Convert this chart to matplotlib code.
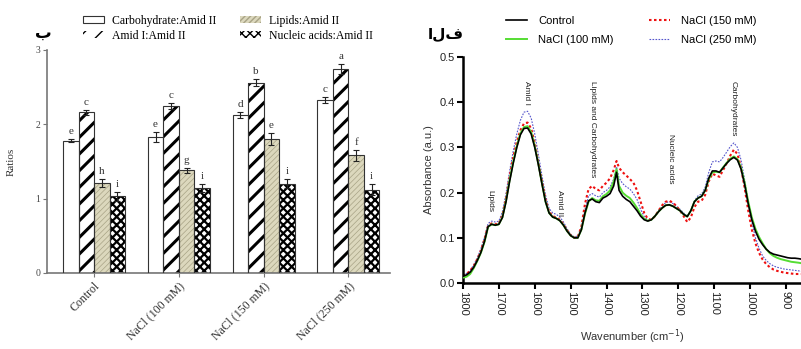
import numpy as np
import matplotlib
matplotlib.use('Agg')
import matplotlib.pyplot as plt
from matplotlib.patches import Patch

# ---- left panel data (ratios) ----
groups = ['Control', 'NaCl (100 mM)', 'NaCl (150 mM)', 'NaCl (250 mM)']
ratio_names = ['Carbohydrate:Amid II', 'Amid I:Amid II', 'Lipids:Amid II', 'Nucleic acids:Amid II']
carb = [1.78, 1.83, 2.13, 2.33]
amid1 = [2.16, 2.24, 2.56, 2.74]
lipids = [1.21, 1.38, 1.80, 1.58]
nucleic = [1.03, 1.14, 1.20, 1.12]
carb_err = [0.02, 0.07, 0.04, 0.04]
amid1_err = [0.03, 0.04, 0.05, 0.07]
lipids_err = [0.05, 0.03, 0.08, 0.07]
nucleic_err = [0.06, 0.05, 0.06, 0.07]
carb_let = ['e', 'e', 'd', 'c']
amid1_let = ['c', 'c', 'b', 'a']
lipids_let = ['h', 'g', 'e', 'f']
nucleic_let = ['i', 'i', 'i', 'i']

# ---- right panel data (FTIR spectra) ----
wn = [1800, 1790, 1780, 1770, 1760, 1750, 1740, 1730, 1720, 1710, 1700, 1690, 1680, 1670, 1660,
      1650, 1640, 1630, 1620, 1610, 1600, 1590, 1580, 1570, 1560, 1550, 1540, 1530, 1520, 1510,
      1500, 1490, 1480, 1470, 1460, 1450, 1440, 1430, 1420, 1410, 1400, 1390, 1380, 1372, 1365,
      1355, 1345, 1335, 1325, 1315, 1305, 1295, 1285, 1275, 1265, 1255, 1245, 1235, 1225, 1215,
      1205, 1195, 1185, 1175, 1165, 1155, 1145, 1135, 1125, 1115, 1105, 1095, 1085, 1075, 1065,
      1055, 1045, 1035, 1025, 1015, 1005, 995, 985, 975, 965, 955, 945, 935, 925, 915,
      905, 895, 885, 875, 865, 858]
control = [0.015, 0.018, 0.024, 0.035, 0.050, 0.068, 0.092, 0.125, 0.130, 0.128, 0.130, 0.145, 0.180, 0.225, 0.265,
           0.300, 0.328, 0.342, 0.343, 0.330, 0.300, 0.262, 0.220, 0.180, 0.155, 0.146, 0.143, 0.138, 0.128, 0.115,
           0.105, 0.100, 0.100, 0.118, 0.155, 0.182, 0.186, 0.180, 0.178, 0.188, 0.192, 0.198, 0.215, 0.245, 0.205,
           0.192, 0.185, 0.180, 0.170, 0.160, 0.148, 0.140, 0.137, 0.140, 0.148, 0.158, 0.166, 0.172, 0.173, 0.170,
           0.165, 0.160, 0.152, 0.147, 0.160, 0.180, 0.188, 0.192, 0.205, 0.232, 0.248, 0.248, 0.245, 0.255, 0.265,
           0.273, 0.278, 0.272, 0.252, 0.218, 0.175, 0.140, 0.115, 0.097, 0.085, 0.075, 0.068, 0.064, 0.062, 0.060,
           0.058, 0.056, 0.055, 0.055, 0.054, 0.053]
nacl100 = [0.012, 0.014, 0.020, 0.033, 0.049, 0.067, 0.091, 0.124, 0.130, 0.128, 0.130, 0.146, 0.182, 0.228, 0.268,
           0.303, 0.331, 0.345, 0.347, 0.334, 0.303, 0.264, 0.221, 0.180, 0.155, 0.146, 0.143, 0.138, 0.128, 0.115,
           0.105, 0.100, 0.100, 0.118, 0.153, 0.180, 0.188, 0.183, 0.182, 0.192, 0.197, 0.205, 0.225, 0.252, 0.215,
           0.200, 0.193, 0.188, 0.178, 0.166, 0.152, 0.142, 0.138, 0.140, 0.148, 0.158, 0.166, 0.172, 0.173, 0.170,
           0.165, 0.160, 0.152, 0.147, 0.160, 0.180, 0.188, 0.192, 0.205, 0.230, 0.245, 0.246, 0.245, 0.256, 0.266,
           0.275, 0.280, 0.274, 0.255, 0.222, 0.180, 0.145, 0.120, 0.102, 0.088, 0.075, 0.066, 0.060, 0.056, 0.053,
           0.051, 0.049, 0.047, 0.046, 0.045, 0.044]
nacl150 = [0.016, 0.020, 0.027, 0.038, 0.053, 0.072, 0.097, 0.127, 0.132, 0.130, 0.132, 0.150, 0.188, 0.235, 0.278,
           0.312, 0.338, 0.353, 0.355, 0.342, 0.310, 0.268, 0.225, 0.185, 0.158, 0.148, 0.145, 0.140, 0.130, 0.117,
           0.106, 0.100, 0.102, 0.125, 0.175, 0.208, 0.215, 0.208, 0.205, 0.215, 0.222, 0.232, 0.250, 0.270, 0.255,
           0.245, 0.238, 0.230, 0.222, 0.205, 0.180, 0.155, 0.142, 0.140, 0.148, 0.160, 0.172, 0.180, 0.182, 0.178,
           0.170, 0.160, 0.148, 0.135, 0.145, 0.168, 0.180, 0.182, 0.195, 0.225, 0.242, 0.238, 0.235, 0.250, 0.265,
           0.282, 0.295, 0.285, 0.255, 0.210, 0.160, 0.118, 0.088, 0.067, 0.052, 0.042, 0.035, 0.030, 0.027, 0.025,
           0.023, 0.022, 0.021, 0.020, 0.020, 0.020]
nacl250 = [0.017, 0.021, 0.028, 0.040, 0.056, 0.076, 0.102, 0.132, 0.137, 0.135, 0.137, 0.158, 0.198, 0.248, 0.292,
           0.330, 0.360, 0.378, 0.380, 0.365, 0.330, 0.285, 0.238, 0.195, 0.165, 0.155, 0.152, 0.146, 0.135, 0.120,
           0.108, 0.102, 0.104, 0.123, 0.163, 0.193, 0.198, 0.193, 0.190, 0.200, 0.205, 0.213, 0.230, 0.257, 0.232,
           0.220, 0.213, 0.208, 0.198, 0.185, 0.163, 0.147, 0.139, 0.140, 0.149, 0.160, 0.170, 0.178, 0.180, 0.176,
           0.170, 0.163, 0.155, 0.148, 0.160, 0.182, 0.193, 0.197, 0.212, 0.245, 0.268, 0.270, 0.268, 0.278, 0.290,
           0.302, 0.310, 0.300, 0.272, 0.228, 0.178, 0.135, 0.100, 0.077, 0.060, 0.050, 0.043, 0.038, 0.035, 0.033,
           0.031, 0.030, 0.029, 0.028, 0.027, 0.026]
band_labels = ['Lipids', 'Amid I', 'Amid II', 'Lipids and Carbohydrates', 'Nucleic acids', 'Carbohydrates']
band_pos = [1725, 1622, 1530, 1438, 1223, 1048]
band_top = [0.205, 0.447, 0.205, 0.447, 0.33, 0.447]

fig = plt.figure(figsize=(8.01, 3.49), dpi=100)

# ================= left: bar chart =================
ax1 = fig.add_axes([0.0587, 0.218, 0.428, 0.639])
serif = 'Liberation Serif'
x = np.arange(len(groups))
w = 0.183
offs = [-1.5 * w, -0.5 * w, 0.5 * w, 1.5 * w]
series = [carb, amid1, lipids, nucleic]
errs = [carb_err, amid1_err, lipids_err, nucleic_err]
lets = [carb_let, amid1_let, lipids_let, nucleic_let]
styles = [
    dict(face='white', hatch=None, hc='#333333', hlw=1.0),
    dict(face='white', hatch='//', hc='black', hlw=2.2),
    dict(face='#dcd8bd', hatch='//////', hc='#a8a386', hlw=0.5),
    dict(face='white', hatch='xxxx', hc='black', hlw=1.6),
]
handles = []
for i in range(4):
    st = styles[i]
    with plt.rc_context({'hatch.linewidth': st['hlw']}):
        b = ax1.bar(x + offs[i], series[i], w, color=st['face'], hatch=st['hatch'],
                    edgecolor=st['hc'], linewidth=0, zorder=2)
        for p in b:
            if hasattr(p, 'set_hatch_linewidth'):
                p.set_hatch_linewidth(st['hlw'])
        ph = Patch(facecolor=st['face'], hatch=st['hatch'], edgecolor=st['hc'],
                   linewidth=0.8 if st['hatch'] is None else 0)
        if hasattr(ph, 'set_hatch_linewidth'):
            ph.set_hatch_linewidth(st['hlw'])
    ax1.bar(x + offs[i], series[i], w, fill=False, edgecolor='#333333', linewidth=0.8, zorder=3)
    ax1.errorbar(x + offs[i], series[i], yerr=errs[i], fmt='none', ecolor='#222222',
                 elinewidth=0.8, capsize=2, capthick=0.8, zorder=4)
    for j in range(4):
        ax1.text(x[j] + offs[i], series[i][j] + errs[i][j] + 0.04, lets[i][j],
                 ha='center', va='bottom', fontsize=8, family=serif, color='#333333')
    handles.append(ph)

ax1.set_xlim(-0.555, 3.49)
ax1.set_ylim(0, 3)
ax1.set_yticks([0, 1, 2, 3])
ax1.set_xticks(x)
ax1.set_xticklabels(groups, rotation=45, ha='right', rotation_mode='anchor',
                    fontsize=8.5, family=serif, color='#333333')
for t in ax1.get_yticklabels():
    t.set_family(serif)
    t.set_fontsize(7)
    t.set_color('#444444')
ax1.set_ylabel('Ratios', family=serif, fontsize=8, color='#333333', labelpad=14)
for s in ['top', 'right']:
    ax1.spines[s].set_visible(False)
for s in ['left', 'bottom']:
    ax1.spines[s].set_color('#777777')
    ax1.spines[s].set_linewidth(1.2)
ax1.tick_params(axis='both', direction='out', length=3, color='#777777', pad=2)
ax1.legend(handles, ratio_names, ncol=2, loc='lower left', bbox_to_anchor=(0.085, 1.005),
           frameon=False, prop={'family': serif, 'size': 8.5}, handlelength=1.75,
           handleheight=0.45, handletextpad=0.7, columnspacing=2.0, labelspacing=0.25,
           borderaxespad=0.2)
fig.text(0.054, 0.905, 'ب', fontsize=12, fontweight='bold', family='DejaVu Sans',
         ha='center', va='center')

# ================= right: spectra =================
sans = 'Liberation Sans'
ax2 = fig.add_axes([0.578, 0.189, 0.422, 0.6476])
ax2.plot(wn, control, color='black', lw=1.2, label='Control', zorder=4)
ax2.plot(wn, nacl100, color='#55dd33', lw=1.4, label='NaCl (100 mM)', zorder=3)
ax2.plot(wn, nacl150, color='#ee1111', lw=1.5, ls=(0, (1.2, 1.2)), label='NaCl (150 mM)', zorder=2)
ax2.plot(wn, nacl250, color='#5555cc', lw=0.8, ls=(0, (1.5, 1.2)), label='NaCl (250 mM)', zorder=1)
ax2.set_xlim(1800, 858)
ax2.set_ylim(0, 0.5)
ax2.set_xticks([1800, 1700, 1600, 1500, 1400, 1300, 1200, 1100, 1000, 900])
ax2.set_yticks([0.0, 0.1, 0.2, 0.3, 0.4, 0.5])
ax2.set_yticklabels(['0.0', '0.1', '0.2', '0.3', '0.4', '0.5'])
for t in ax2.get_xticklabels():
    t.set_rotation(-90)
for t in ax2.get_xticklabels() + ax2.get_yticklabels():
    t.set_family(sans)
    t.set_fontsize(8)
    t.set_color('#222222')
for s in ['top', 'right']:
    ax2.spines[s].set_visible(False)
for s in ['left', 'bottom']:
    ax2.spines[s].set_linewidth(1.8)
ax2.tick_params(axis='both', direction='out', length=4, width=1.5, pad=2)
ax2.set_xlabel('Wavenumber (cm$^{-1}$)', family=sans, fontsize=8, color='#333333', labelpad=8)
ax2.set_ylabel('Absorbance (a.u.)', family=sans, fontsize=8, color='#333333', labelpad=4)
for k in range(len(band_labels)):
    ax2.text(band_pos[k], band_top[k], band_labels[k], rotation=-90, ha='center', va='top',
             fontsize=6, family=sans, color='#222222')
ax2.legend(ncol=2, loc='lower left', bbox_to_anchor=(0.11, 1.03), frameon=False,
           prop={'family': sans, 'size': 8}, handlelength=1.9, handletextpad=1.0,
           columnspacing=3.2, labelspacing=0.75, borderaxespad=0.1)
fig.text(0.557, 0.905, 'الف', fontsize=11, fontweight='bold', family='DejaVu Sans',
         ha='center', va='center')

fig.savefig('out.png', dpi=100)
